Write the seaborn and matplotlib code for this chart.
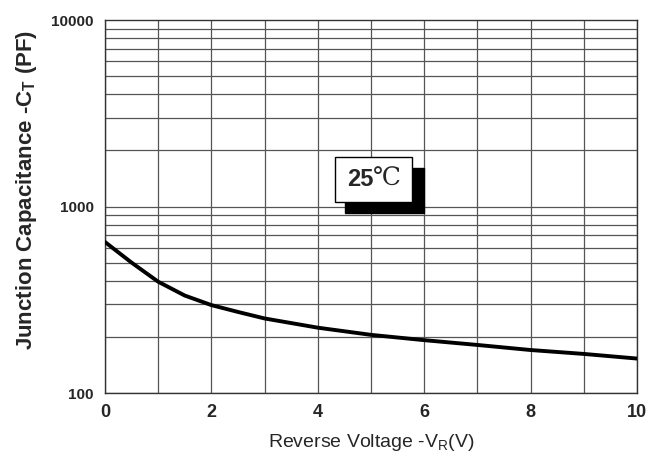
import numpy as np
import pandas as pd
import matplotlib
matplotlib.use("Agg")
import matplotlib.pyplot as plt
import seaborn as sns
from matplotlib.patches import Rectangle

# values
voltage = [0, 0.5, 1, 1.5, 2, 2.5, 3, 4, 5, 6, 7, 8, 9, 10]
capacitance = [645, 500, 395, 333, 296, 272, 251, 224, 205, 192, 181, 170, 162, 153]

x_ticks = [0, 2, 4, 6, 8, 10]
y_ticks = [100, 1000, 10000]

sns.set_style("white")
plt.rcParams['font.family'] = ['Liberation Sans', 'DejaVu Sans']

df = pd.DataFrame({"V": voltage, "C": capacitance})

fig = plt.figure(figsize=(6.63, 4.61), dpi=100)
ax = fig.add_axes([0.1584, 0.1475, 0.8024, 0.8091])

ax.set_yscale("log")
ax.set_xlim(0, 10)
ax.set_ylim(100, 10000)

# grid: one line per volt, 1..9 per decade
for v in range(0, 11):
    ax.axvline(v, color="#555555", lw=0.9, zorder=1)
for dec in [100, 1000]:
    for m in range(1, 10):
        ax.axhline(dec * m, color="#555555", lw=0.9, zorder=1)

sns.lineplot(data=df, x="V", y="C", ax=ax, color="black", lw=2.8, zorder=3)

ax.set_xticks(x_ticks)
ax.set_xticklabels([str(t) for t in x_ticks], fontweight="bold", fontsize=13)
ax.set_yticks(y_ticks)
ax.set_yticklabels([str(t) for t in y_ticks], fontweight="bold", fontsize=11)
ax.minorticks_off()
ax.tick_params(length=0, pad=8)
ax.tick_params(axis="y", pad=8)

ax.set_xlabel("Reverse Voltage -V$_\\mathregular{R}$(V)", fontsize=14, labelpad=8)
ax.set_ylabel("Junction Capacitance -C$_\\mathregular{T}$ (PF)", fontsize=16,
              fontweight="bold")
ax.yaxis.set_label_coords(-0.124, 0.545)

for s in ax.spines.values():
    s.set_color("#333333")
    s.set_linewidth(1)

# temperature label with shadow
ax.add_patch(Rectangle((0.451, 0.483), 0.149, 0.120, transform=ax.transAxes,
                       facecolor="black", edgecolor="black", zorder=4))
ax.add_patch(Rectangle((0.432, 0.512), 0.145, 0.121, transform=ax.transAxes,
                       facecolor="white", edgecolor="black", lw=1, zorder=5))
ax.text(0.455, 0.572, "25", transform=ax.transAxes, fontsize=17,
        fontweight="bold", va="center", ha="left", zorder=6)
ax.text(0.503, 0.572, "℃", transform=ax.transAxes, fontsize=18,
        va="center", ha="left", zorder=6, family=['DejaVu Serif', 'DejaVu Sans'])

fig.savefig("out.png", dpi=100)
